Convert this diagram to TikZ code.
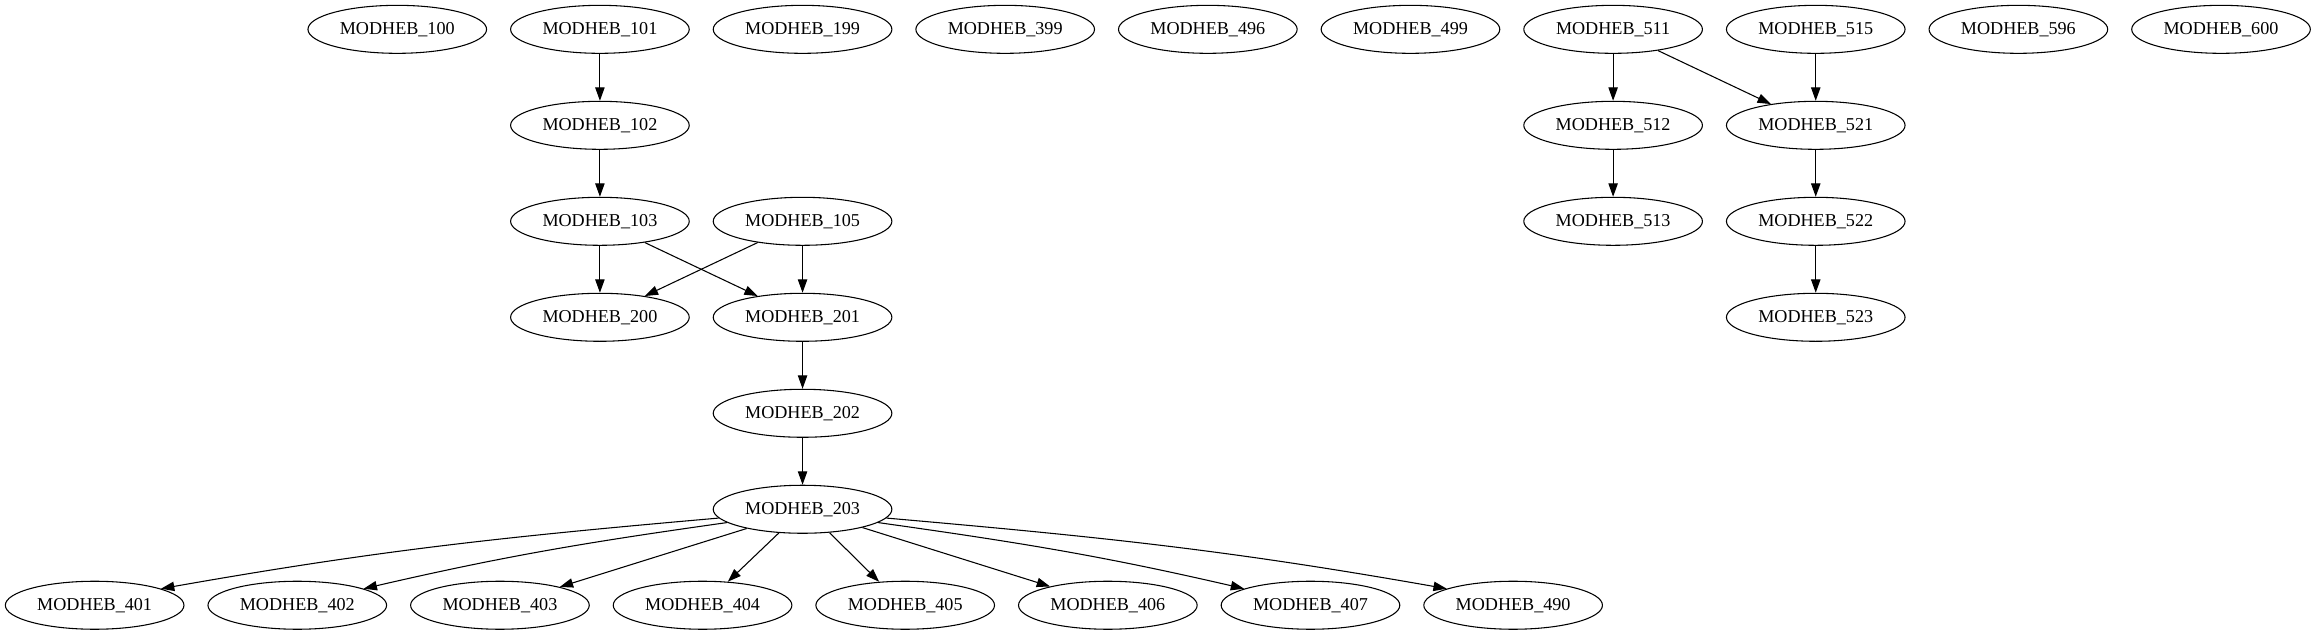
\documentclass[tikz,border=0pt]{standalone}
\usepackage{fontspec}
\setmainfont{Liberation Serif}
\usetikzlibrary{arrows.meta,shapes.geometric}
\begin{document}
\begin{tikzpicture}[x=1pt,y=1pt,
  gnode/.style={draw, ellipse, minimum width=134pt, minimum height=36pt, inner sep=0pt,
    font=\fontsize{13.6}{16}\selectfont, line width=0.8pt},
  edge/.style={line width=0.8pt, -{Triangle[length=10pt,width=7pt]}}]
\useasboundingbox (0,0) rectangle (1738,-476);
% row 1
\node[gnode] (n100) at (298,-22) {MODHEB\_100};
\node[gnode] (n101) at (450,-22) {MODHEB\_101};
\node[gnode] (n199) at (602,-22) {MODHEB\_199};
\node[gnode] (n399) at (754,-22) {MODHEB\_399};
\node[gnode] (n496) at (906,-22) {MODHEB\_496};
\node[gnode] (n499) at (1058,-22) {MODHEB\_499};
\node[gnode] (n511) at (1210,-22) {MODHEB\_511};
\node[gnode] (n515) at (1362,-22) {MODHEB\_515};
\node[gnode] (n596) at (1514,-22) {MODHEB\_596};
\node[gnode] (n600) at (1666,-22) {MODHEB\_600};
% row 2
\node[gnode] (n102) at (450,-94) {MODHEB\_102};
\node[gnode] (n512) at (1210,-94) {MODHEB\_512};
\node[gnode] (n521) at (1362,-94) {MODHEB\_521};
% row 3
\node[gnode] (n103) at (450,-166) {MODHEB\_103};
\node[gnode] (n105) at (602,-166) {MODHEB\_105};
\node[gnode] (n513) at (1210,-166) {MODHEB\_513};
\node[gnode] (n522) at (1362,-166) {MODHEB\_522};
% row 4
\node[gnode] (n200) at (450,-238) {MODHEB\_200};
\node[gnode] (n201) at (602,-238) {MODHEB\_201};
\node[gnode] (n523) at (1362,-238) {MODHEB\_523};
% row 5, 6
\node[gnode] (n202) at (602,-310) {MODHEB\_202};
\node[gnode] (n203) at (602,-382) {MODHEB\_203};
% row 7
\node[gnode] (n401) at (71,-454) {MODHEB\_401};
\node[gnode] (n402) at (223,-454) {MODHEB\_402};
\node[gnode] (n403) at (375,-454) {MODHEB\_403};
\node[gnode] (n404) at (527,-454) {MODHEB\_404};
\node[gnode] (n405) at (679,-454) {MODHEB\_405};
\node[gnode] (n406) at (831,-454) {MODHEB\_406};
\node[gnode] (n407) at (983,-454) {MODHEB\_407};
\node[gnode] (n490) at (1135,-454) {MODHEB\_490};
% edges
\draw[edge] (n101) -- (n102);
\draw[edge] (n102) -- (n103);
\draw[edge] (n103) -- (n200);
\draw[edge] (n103) -- (n201);
\draw[edge] (n105) -- (n200);
\draw[edge] (n105) -- (n201);
\draw[edge] (n201) -- (n202);
\draw[edge] (n202) -- (n203);
\draw[edge] (n203.186) to[out=185,in=10] (n401.14);
\draw[edge] (n203.190) to[out=188,in=13] (n402.14);
\draw[edge] (n203.199) -- (n403.17);
\draw[edge] (n203.225) -- (n404.43);
\draw[edge] (n203.-41) -- (n405.138);
\draw[edge] (n203.-17) -- (n406.162);
\draw[edge] (n203.-10) to[out=-8,in=167] (n407.166);
\draw[edge] (n203.-6) to[out=-5,in=170] (n490.166);
\draw[edge] (n511) -- (n512);
\draw[edge] (n511) -- (n521);
\draw[edge] (n515) -- (n521);
\draw[edge] (n512) -- (n513);
\draw[edge] (n521) -- (n522);
\draw[edge] (n522) -- (n523);
\end{tikzpicture}
\end{document}
